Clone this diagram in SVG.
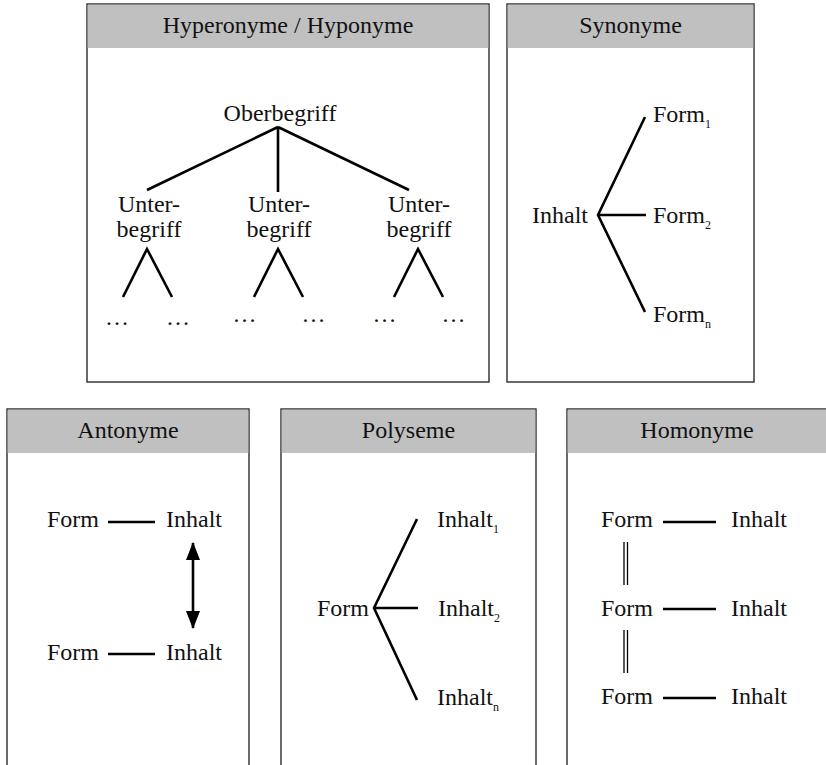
<svg xmlns="http://www.w3.org/2000/svg" width="826" height="765" viewBox="0 0 826 765">
  <defs>
    <style>
      .panel { fill: #ffffff; stroke: #2b2b2b; stroke-width: 1.4; }
      .head { fill: #c0c0c0; }
      .t { font-family: "Liberation Serif", "Times New Roman", serif; font-size: 24px; fill: #111111; }
      .mid { text-anchor: middle; }
      .sub { font-size: 12px; }
      .edge { stroke: #000000; stroke-width: 2.6; fill: none; stroke-linecap: butt; }
      .thin { stroke: #000000; stroke-width: 1.3; fill: none; }
    </style>
    <marker id="arrowhead" viewBox="0 0 18 14" refX="17" refY="7" markerWidth="18" markerHeight="14" markerUnits="userSpaceOnUse" orient="auto-start-reverse">
      <path d="M0,0 L18,7 L0,14 Z" fill="#000000"/>
    </marker>
  </defs>

  <rect width="826" height="765" fill="#ffffff"/>

  <!-- Panel frames with grey title bars -->
  <g id="panel-hyperonyme">
    <rect class="panel" x="87" y="4" width="402" height="378"/>
    <rect class="head" x="87.7" y="4.7" width="400.6" height="43.3"/>
    <text class="t mid" x="288" y="33">Hyperonyme / Hyponyme</text>
  </g>
  <g id="panel-synonyme">
    <rect class="panel" x="507" y="4" width="247" height="378"/>
    <rect class="head" x="507.7" y="4.7" width="245.6" height="43.3"/>
    <text class="t mid" x="630.5" y="33">Synonyme</text>
  </g>
  <g id="panel-antonyme">
    <rect class="panel" x="7" y="409" width="242" height="370"/>
    <rect class="head" x="7.7" y="409.7" width="240.6" height="43.3"/>
    <text class="t mid" x="128" y="438">Antonyme</text>
  </g>
  <g id="panel-polyseme">
    <rect class="panel" x="281" y="409" width="255" height="370"/>
    <rect class="head" x="281.7" y="409.7" width="253.6" height="43.3"/>
    <text class="t mid" x="408.5" y="438">Polyseme</text>
  </g>
  <g id="panel-homonyme">
    <rect class="panel" x="567" y="409" width="260" height="370"/>
    <rect class="head" x="567.7" y="409.7" width="258.6" height="43.3"/>
    <text class="t mid" x="697" y="438">Homonyme</text>
  </g>

  <!-- Hyperonymy tree labels -->
  <g id="node-oberbegriff">
    <text class="t mid" x="280" y="121">Oberbegriff</text>
  </g>
  <g id="node-unterbegriff-1">
    <text class="t mid" x="149" y="212">Unter-</text>
    <text class="t mid" x="149" y="237">begriff</text>
  </g>
  <g id="node-unterbegriff-2">
    <text class="t mid" x="279" y="212">Unter-</text>
    <text class="t mid" x="279" y="237">begriff</text>
  </g>
  <g id="node-unterbegriff-3">
    <text class="t mid" x="419" y="212">Unter-</text>
    <text class="t mid" x="419" y="237">begriff</text>
  </g>
  <g id="node-ellipses">
    <text class="t mid" x="117" y="325">…</text>
    <text class="t mid" x="178" y="325">…</text>
    <text class="t mid" x="244.5" y="322">…</text>
    <text class="t mid" x="313.5" y="322">…</text>
    <text class="t mid" x="384.5" y="322">…</text>
    <text class="t mid" x="453.5" y="322">…</text>
  </g>

  <!-- Synonymy labels -->
  <g id="node-syn-inhalt">
    <text class="t" x="532" y="223">Inhalt</text>
  </g>
  <g id="node-syn-form1">
    <text class="t" x="653" y="122">Form<tspan class="sub" dy="6">1</tspan></text>
  </g>
  <g id="node-syn-form2">
    <text class="t" x="653" y="223">Form<tspan class="sub" dy="6">2</tspan></text>
  </g>
  <g id="node-syn-formn">
    <text class="t" x="653" y="322">Form<tspan class="sub" dy="6">n</tspan></text>
  </g>

  <!-- Antonymy labels -->
  <g id="node-ant-row1">
    <text class="t" x="47" y="527">Form</text>
    <text class="t" x="166" y="527">Inhalt</text>
  </g>
  <g id="node-ant-row2">
    <text class="t" x="47" y="660">Form</text>
    <text class="t" x="166" y="660">Inhalt</text>
  </g>

  <!-- Polysemy labels -->
  <g id="node-poly-form">
    <text class="t" x="317" y="616">Form</text>
  </g>
  <g id="node-poly-inhalt1">
    <text class="t" x="437" y="527">Inhalt<tspan class="sub" dy="6">1</tspan></text>
  </g>
  <g id="node-poly-inhalt2">
    <text class="t" x="438" y="616">Inhalt<tspan class="sub" dy="6">2</tspan></text>
  </g>
  <g id="node-poly-inhaltn">
    <text class="t" x="437" y="705">Inhalt<tspan class="sub" dy="6">n</tspan></text>
  </g>

  <!-- Homonymy labels -->
  <g id="node-hom-row1">
    <text class="t" x="601" y="527">Form</text>
    <text class="t" x="731" y="527">Inhalt</text>
  </g>
  <g id="node-hom-row2">
    <text class="t" x="601" y="616">Form</text>
    <text class="t" x="731" y="616">Inhalt</text>
  </g>
  <g id="node-hom-row3">
    <text class="t" x="601" y="704">Form</text>
    <text class="t" x="731" y="704">Inhalt</text>
  </g>

  <!-- Connectors -->
  <g id="connectors">
    <!-- tree: Oberbegriff to Unterbegriffe -->
    <path class="edge" d="M278,127 L147,190 M278,127 L278,192 M278,127 L409,190"/>
    <!-- tree: branches below each Unterbegriff -->
    <path class="edge" d="M123,297 L147,249 L172,297"/>
    <path class="edge" d="M254,297 L278,249 L303,297"/>
    <path class="edge" d="M394,297 L418,249 L443,297"/>
    <!-- synonymy fan -->
    <path class="edge" d="M645,117 L598,215 L645,312 M598,215 L646,215"/>
    <!-- antonymy -->
    <path class="edge" d="M108,522 L155,522 M108,654 L155,654"/>
    <line class="edge" x1="193" y1="543" x2="193" y2="628" marker-start="url(#arrowhead)" marker-end="url(#arrowhead)"/>
    <!-- polysemy fan -->
    <path class="edge" d="M417,519 L374,608 L417,700 M374,608 L418,608"/>
    <!-- homonymy -->
    <path class="edge" d="M663,522 L716,522 M663,609 L716,609 M663,698 L716,698"/>
    <path class="thin" d="M624,542 L624,585 M627.5,542 L627.5,585 M624,630 L624,673 M627.5,630 L627.5,673"/>
  </g>
</svg>
